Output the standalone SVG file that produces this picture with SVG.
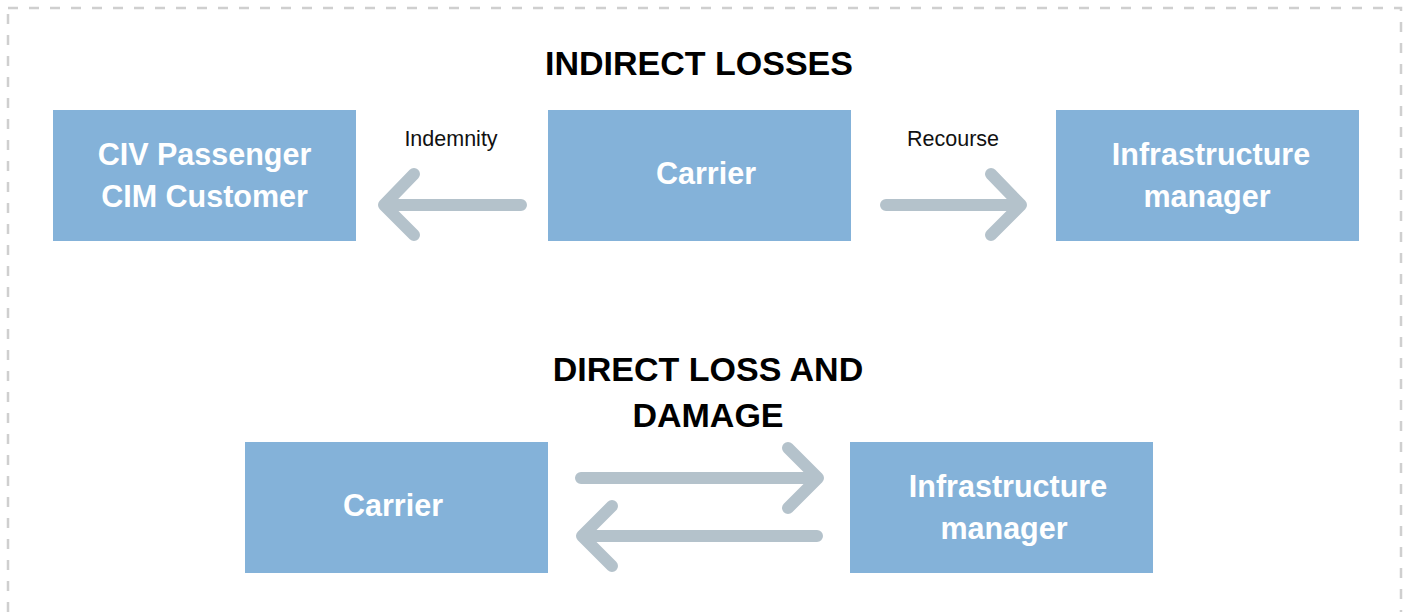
<svg xmlns="http://www.w3.org/2000/svg" width="1407" height="612" viewBox="0 0 1407 612">
<style>
.box{fill:#84b2d9}
.bt{font-family:"Liberation Sans",Arial,sans-serif;font-weight:bold;font-size:30.5px;fill:#ffffff;text-anchor:middle}
.title{font-family:"Liberation Sans",Arial,sans-serif;font-weight:bold;font-size:34px;fill:#000000;text-anchor:middle}
.lbl{font-family:"Liberation Sans",Arial,sans-serif;font-size:21.5px;fill:#111111;text-anchor:middle}
.arr{fill:none;stroke:#b4c2cb;stroke-width:12;stroke-linecap:round;stroke-linejoin:round}
</style>
<rect x="8" y="8" width="1393" height="610" fill="#ffffff" stroke="#cfcfcf" stroke-width="2.5" stroke-dasharray="10 11"/>
<text class="title" x="699" y="75">INDIRECT LOSSES</text>
<text class="title" x="708" y="381">DIRECT LOSS AND</text>
<text class="title" x="708" y="427">DAMAGE</text>
<g id="civ">
<rect class="box" x="53" y="110" width="303" height="131"/>
<text class="bt" x="204.5" y="165">CIV Passenger</text>
<text class="bt" x="204.5" y="207">CIM Customer</text>
</g>
<g id="carrier1">
<rect class="box" x="548" y="110" width="303" height="131"/>
<text class="bt" x="706" y="184">Carrier</text>
</g>
<g id="infra1">
<rect class="box" x="1056" y="110" width="303" height="131"/>
<text class="bt" x="1211" y="165">Infrastructure</text>
<text class="bt" x="1207" y="207">manager</text>
</g>
<g id="carrier2">
<rect class="box" x="245" y="442" width="303" height="131"/>
<text class="bt" x="393" y="516">Carrier</text>
</g>
<g id="infra2">
<rect class="box" x="850" y="442" width="303" height="131"/>
<text class="bt" x="1008" y="497">Infrastructure</text>
<text class="bt" x="1004" y="539">manager</text>
</g>
<g id="connectors">
<path class="arr" d="M521 205 H384 M414 174 L384 205 L414 235"/>
<text class="lbl" x="451" y="146">Indemnity</text>
<path class="arr" d="M886 205 H1021 M991 174 L1021 205 L991 235"/>
<text class="lbl" x="953" y="146">Recourse</text>
<path class="arr" d="M581 478 H818 M788 448 L818 478 L788 508"/>
<path class="arr" d="M817 536 H582 M612 506 L582 536 L612 566"/>
</g>
</svg>
